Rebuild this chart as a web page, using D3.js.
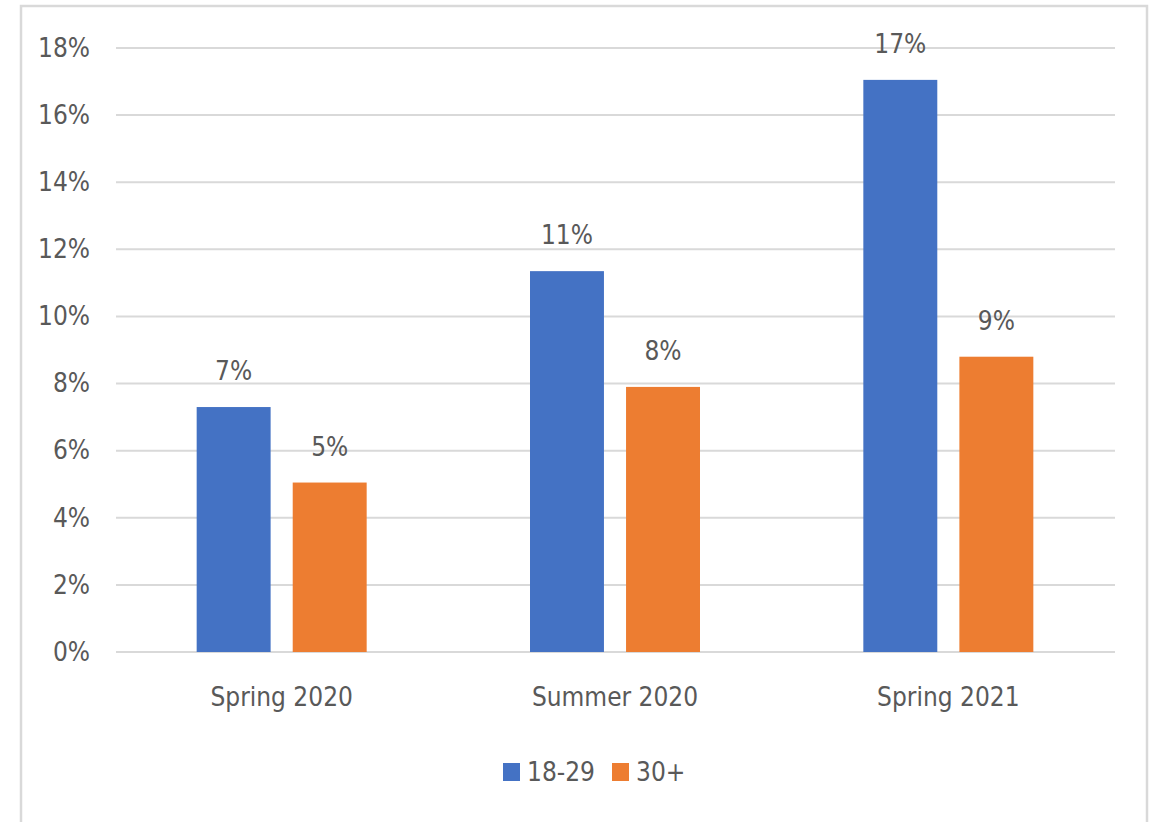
<!DOCTYPE html>
<html>
<head>
<meta charset="utf-8">
<script src="https://cdn.jsdelivr.net/npm/d3@7"></script>
<style>
  body { margin: 0; background: #fff; }
  svg text { font-family: "Liberation Sans Narrow", "Arial Narrow", "DejaVu Sans Condensed", sans-serif; fill: #595959; }
</style>
</head>
<body>
<script>
// chart values
var periods = ["Spring 2020", "Summer 2020", "Spring 2021"];
var groups = ["18-29", "30+"];
var young = [7.3, 11.35, 17.05];
var older = [5.05, 7.9, 8.8];
var labels = ["7%", "11%", "17%"];
var labelsOlder = ["5%", "8%", "9%"];
var yTicks = [0, 2, 4, 6, 8, 10, 12, 14, 16, 18];

var width = 1155, height = 822;
var fontSize = "26px";
var colors = { "18-29": "#4472C4", "30+": "#ED7D31" };

var svg = d3.select("body").append("svg")
    .attr("width", width)
    .attr("height", height);

// outer frame
svg.append("rect")
    .attr("x", 21).attr("y", 6)
    .attr("width", 1126).attr("height", 830)
    .attr("fill", "none")
    .attr("stroke", "#d9d9d9")
    .attr("stroke-width", 2.5);

var y = d3.scaleLinear().domain([0, 18]).range([652, 48]);
var x = d3.scaleBand().domain(periods).range([115, 1115])
    .paddingInner(0.49).paddingOuter(0.245);
var xs = d3.scaleBand().domain(groups).range([0, x.bandwidth()])
    .paddingInner(0.23);

// gridlines
svg.append("g")
    .selectAll("line")
    .data(yTicks)
    .join("line")
    .attr("x1", 116).attr("x2", 1115)
    .attr("y1", function (d) { return y(d); })
    .attr("y2", function (d) { return y(d); })
    .attr("stroke", "#d9d9d9")
    .attr("stroke-width", 2);

// y axis labels
var yAxis = d3.axisLeft(y).tickValues(yTicks)
    .tickFormat(function (d) { return d + "%"; })
    .tickSize(0).tickPadding(0);
svg.append("g")
    .attr("transform", "translate(90,0)")
    .call(yAxis)
    .call(function (g) { g.select(".domain").remove(); })
    .selectAll("text")
    .style("font-size", fontSize)
    .attr("fill", "#595959");

// x axis labels
var xAxis = d3.axisBottom(x).tickSize(0).tickPadding(0);
svg.append("g")
    .attr("transform", "translate(0,706)")
    .call(xAxis)
    .call(function (g) { g.select(".domain").remove(); })
    .selectAll("text")
    .attr("dy", 0)
    .style("font-size", fontSize)
    .attr("fill", "#595959");

// bars
var rows = periods.map(function (p, i) {
    return [
        { period: p, group: "18-29", value: young[i], label: labels[i] },
        { period: p, group: "30+", value: older[i], label: labelsOlder[i] }
    ];
});
var flat = d3.merge(rows);

svg.append("g")
    .selectAll("rect")
    .data(flat)
    .join("rect")
    .attr("x", function (d) { return x(d.period) + xs(d.group); })
    .attr("y", function (d) { return y(d.value); })
    .attr("width", xs.bandwidth())
    .attr("height", function (d) { return y(0) - y(d.value); })
    .attr("fill", function (d) { return colors[d.group]; });

// value labels
svg.append("g")
    .selectAll("text")
    .data(flat)
    .join("text")
    .attr("x", function (d) { return x(d.period) + xs(d.group) + xs.bandwidth() / 2; })
    .attr("y", function (d) { return y(d.value) - 27; })
    .attr("text-anchor", "middle")
    .style("font-size", fontSize)
    .text(function (d) { return d.label; });

// legend
var legend = svg.append("g").attr("transform", "translate(503,772)");
var legendX = [0, 109];
groups.forEach(function (g, i) {
    var item = legend.append("g").attr("transform", "translate(" + legendX[i] + ",0)");
    item.append("rect")
        .attr("x", 0).attr("y", -9)
        .attr("width", 17).attr("height", 18)
        .attr("fill", colors[g]);
    item.append("text")
        .attr("x", 24).attr("y", 9)
        .style("font-size", fontSize)
        .text(g);
});
</script>
</body>
</html>
